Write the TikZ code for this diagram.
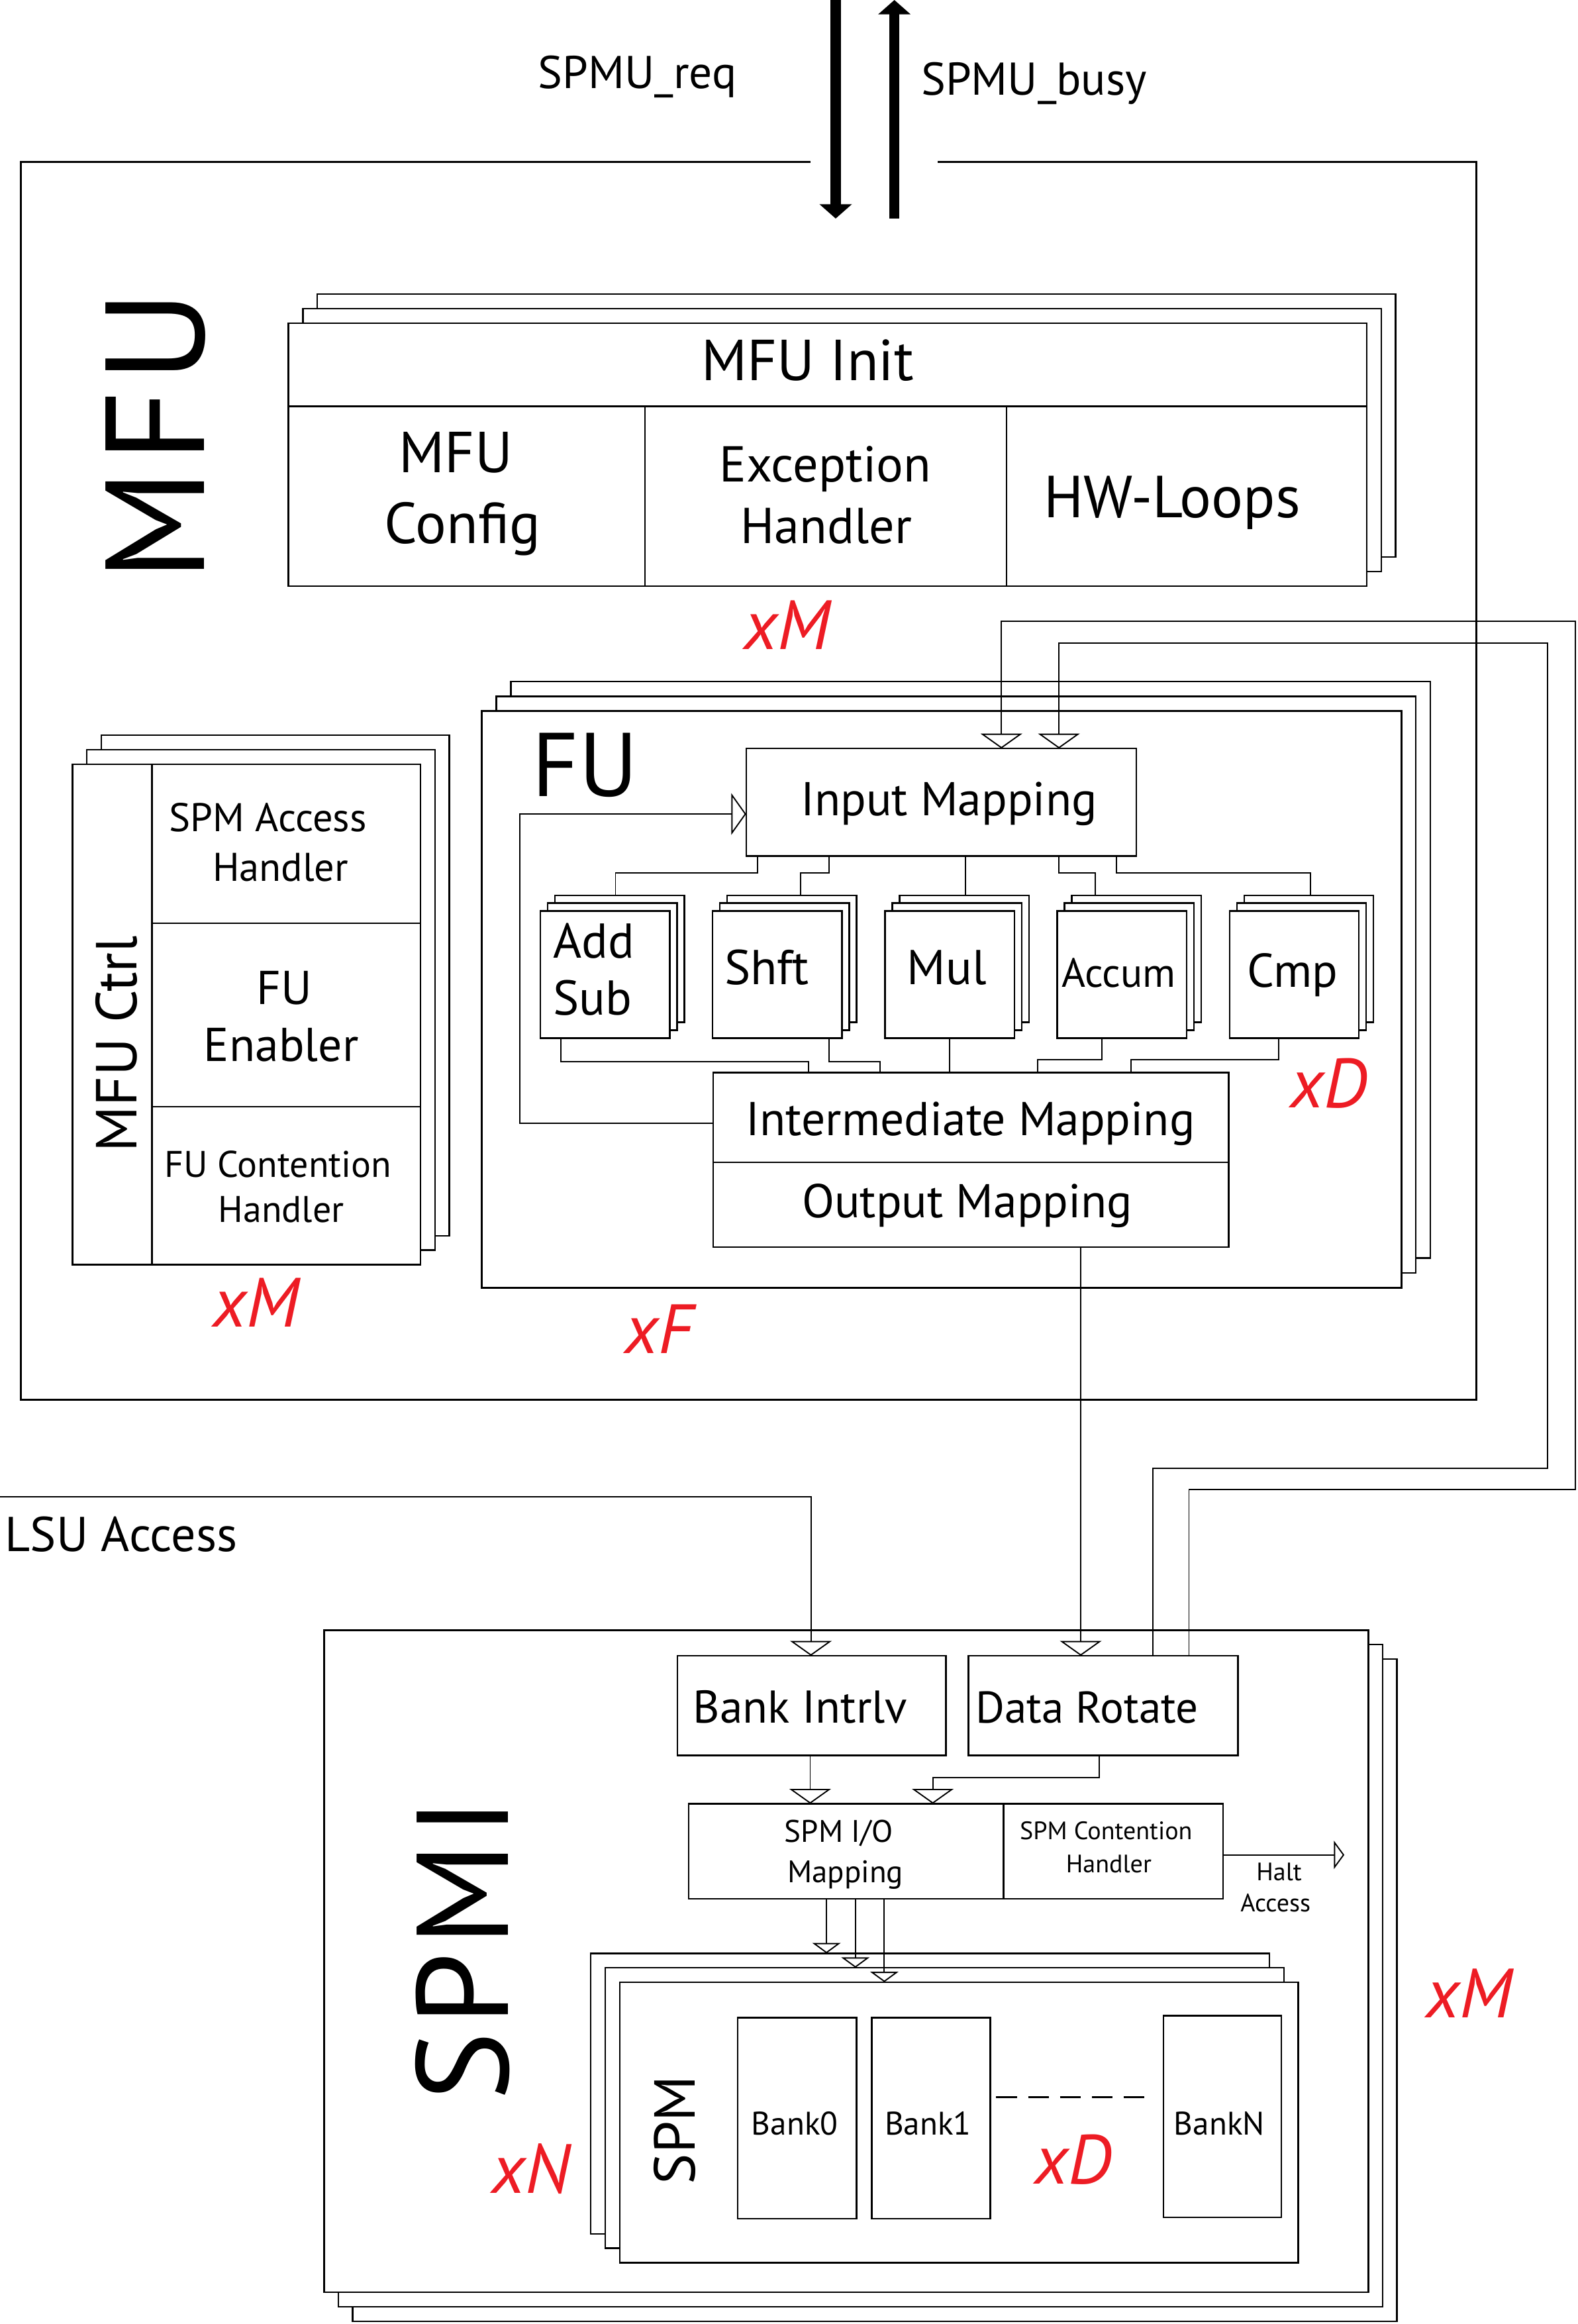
\documentclass[tikz,border=0pt]{standalone}
\usepackage{fontspec}
\setmainfont{PT Sans}
\usetikzlibrary{arrows.meta}
\definecolor{xred}{RGB}{237,28,36}
\newcommand{\fsz}[1]{\fontsize{#1}{#1}\selectfont}
% box node from corners: [opts]{name}{x1}{y1}{x2}{y2}
\newcommand{\bx}[6][]{%
  \node[box,#1,minimum width={((#5)-(#3))*1pt},minimum height={((#6)-(#4))*1pt}] (#2) at ({((#3)+(#5))/2},{((#4)+(#6))/2}) {};}
% stack of three copies: {name}{x1}{y1}{x2}{y2}{dx}{dy}
\newcommand{\stk}[7]{%
  \bx{#1B2}{#2+2*(#6)}{#3+2*(#7)}{#4+2*(#6)}{#5+2*(#7)}
  \bx{#1B1}{#2+(#6)}{#3+(#7)}{#4+(#6)}{#5+(#7)}
  \bx{#1}{#2}{#3}{#4}{#5}}
\tikzset{
  box/.style={draw, line width=1.1pt, fill=white, inner sep=0pt, outer sep=0pt},
  divline/.style={line width=1.1pt},
  conn/.style={line width=0.85pt},
  oarr/.tip={Triangle[open, width=28pt, length=10pt]},
  stip/.tip={Triangle[open, width=19pt, length=7pt]},
  fattip/.tip={Triangle[width=21.4pt, length=9.7pt]},
  txt/.style={inner sep=0pt, outer sep=0pt, anchor=base},
  redl/.style={txt, text=xred, font=\itshape\fsz{47}},
}
\begin{document}
\begin{tikzpicture}[x=1pt,y=-1pt]
\fill[white] (0,0) rectangle (1064,1567.4);
\useasboundingbox (0,0) rectangle (1064,1567.4);

% ---------- top signals ----------
\coordinate (reqsrc) at (563.7,0);
\coordinate (reqdst) at (563.7,147.4);
\coordinate (busysrc) at (603.3,147.4);
\coordinate (busydst) at (603.3,0);
\draw[line width=6.8pt, -fattip] (reqsrc) -- (reqdst);
\draw[line width=6.8pt, -fattip] (busysrc) -- (busydst);
\node[txt,font=\fsz{31}] (reqlbl) at (430,59.5) {SPMU\_req};
\node[txt,font=\fsz{31}] (busylbl) at (697.5,64) {SPMU\_busy};

% ---------- MFU container ----------
\draw[line width=1.3pt] (546.8,109.4) -- (14,109.4) -- (14,944.2) -- (995.7,944.2) -- (995.7,109.4) -- (632.4,109.4);
\node[txt,rotate=90,font=\fsz{95}\addfontfeature{LetterSpace=5}] (mfulbl) at (137.8,294) {MFU};

% MFU Init
\stk{mfuinit}{194.6}{218}{922}{395.3}{9.7}{-9.8}
\draw[divline] (194.6,274) -- (922,274);
\draw[divline] (435,274) -- (435,395.3);
\draw[divline] (679,274) -- (679,395.3);
\node[txt,font=\fsz{39}] (initlbl) at (544.8,256.4) {MFU Init};
\node[txt,font=\fsz{39}] (cfg1) at (307.5,318.7) {MFU};
\node[txt,font=\fsz{39}] (cfg2) at (312,366.7) {Config};
\node[txt,font=\fsz{34}] (exc1) at (556.7,325) {Exception};
\node[txt,font=\fsz{34}] (exc2) at (557.4,366.7) {Handler};
\node[txt,font=\fsz{40}] (hwl) at (790.7,349.2) {HW-Loops};
\node[redl] (xm1) at (530.8,437.9) {xM};

% MFU Ctrl
\stk{ctrl}{48.9}{515.5}{283.7}{853}{9.7}{-9.8}
\draw[divline] (102.5,515.5) -- (102.5,853);
\draw[divline] (102.5,622.7) -- (283.7,622.7);
\draw[divline] (102.5,746.5) -- (283.7,746.5);
\node[txt,rotate=90,font=\fsz{39}] (ctrllbl) at (92.3,704) {MFU Ctrl};
\node[txt,font=\fsz{27}] (sah1) at (180.8,561) {SPM Access};
\node[txt,font=\fsz{27}] (sah2) at (189.2,594.4) {Handler};
\node[txt,font=\fsz{32}] (fue1) at (191.9,677.2) {FU};
\node[txt,font=\fsz{32}] (fue2) at (189.7,715.8) {Enabler};
\node[txt,font=\fsz{25}] (fch1) at (187.6,794) {FU Contention};
\node[txt,font=\fsz{25}] (fch2) at (189.7,824.5) {Handler};
\node[redl] (xm2) at (172.9,894.9) {xM};

% FU
\stk{fu}{325}{479.6}{945.3}{868.5}{9.8}{-10}
\node[txt,font=\fsz{61}] (fulbl) at (394.7,537) {FU};
\bx{inmap}{503.3}{504.8}{766.5}{577.3}
\node[txt,font=\fsz{32}] (inmaplbl) at (640.1,550.1) {Input Mapping};

\stk{addsub}{364.5}{614.4}{451.9}{700.1}{4.9}{-5.3}
\stk{shft}{480.6}{614.4}{568}{700.1}{4.9}{-5.3}
\stk{mul}{597}{614.4}{684.4}{700.1}{4.9}{-5.3}
\stk{accum}{713.1}{614.4}{800.5}{700.1}{4.9}{-5.3}
\stk{cmp}{829.5}{614.4}{916.5}{700.1}{4.9}{-5.3}
\node[txt,anchor=base west,font=\fsz{33}] (addlbl) at (373.3,645.9) {Add};
\node[txt,anchor=base west,font=\fsz{33}] (sublbl) at (373.3,684.4) {Sub};
\node[txt,font=\fsz{33}] (shftlbl) at (517.1,664) {Shft};
\node[txt,font=\fsz{33}] (mullbl) at (638.7,664) {Mul};
\node[txt,font=\fsz{27.5}] (acclbl) at (754.6,665.7) {Accum};
\node[txt,font=\fsz{32}] (cmplbl) at (872,665.9) {Cmp};

\bx{imap}{481}{723.4}{828.9}{783.8}
\bx{omap}{481}{783.8}{828.9}{841.2}
\node[txt,font=\fsz{32}] (imaplbl) at (654.7,766) {Intermediate Mapping};
\node[txt,font=\fsz{32}] (omaplbl) at (652.5,821.4) {Output Mapping};
\node[redl] (xd1) at (896.2,747.2) {xD};
\node[redl] (xf) at (444.3,913) {xF};

% FU internal connectors
\draw[conn] (inmap.south -| 510.9,0) |- (415.2,588.8) -- (addsubB2.north -| 415.2,0);
\draw[conn] (inmap.south -| 559.2,0) |- (540,588.8) -- (shftB2.north -| 540,0);
\draw[conn] (inmap.south -| 651.3,0) -- (mulB2.north -| 651.3,0);
\draw[conn] (inmap.south -| 714.3,0) |- (738.6,588.8) -- (accumB2.north -| 738.6,0);
\draw[conn] (inmap.south -| 753,0) |- (883.8,588.8) -- (cmpB2.north -| 883.8,0);
\draw[conn] (addsub.south -| 378.5,0) |- (545.2,715.9) -- (imap.north -| 545.2,0);
\draw[conn] (shft.south -| 559.2,0) |- (593.5,716) -- (imap.north -| 593.5,0);
\draw[conn] (mul.south -| 640.5,0) -- (imap.north -| 640.5,0);
\draw[conn] (accum.south -| 743.4,0) |- (700,714.8) -- (imap.north -| 700,0);
\draw[conn] (cmp.south -| 862.7,0) |- (763,714.8) -- (imap.north -| 763,0);
\draw[conn,-oarr] (imap.west |- 0,757.4) -| (350.6,549) -- (inmap.west |- 0,549);

% ---------- SPMI ----------
\stk{spmi}{218.6}{1099.4}{923}{1546}{9.6}{9.8}
\node[txt,rotate=90,font=\fsz{88}\addfontfeature{LetterSpace=5}] (spmilbl) at (342.8,1315) {SPMI};
\node[redl] (xm3) at (991,1360.6) {xM};

\bx{bi}{457}{1116.7}{638}{1183.9}
\bx{dr}{653.3}{1116.7}{835}{1183.9}
\node[txt,font=\fsz{31}] (bilbl) at (539.8,1162.2) {Bank Intrlv};
\node[txt,font=\fsz{30}] (drlbl) at (733.3,1162.2) {Data Rotate};

\bx{sio}{464.5}{1216.5}{677}{1280.6}
\bx{sch}{677}{1216.5}{825}{1280.6}
\node[txt,font=\fsz{21}] (sio1) at (565.8,1242.4) {SPM I/O};
\node[txt,font=\fsz{21}] (sio2) at (570.2,1269.8) {Mapping};
\node[txt,font=\fsz{17}] (sch1) at (746.1,1240.6) {SPM Contention};
\node[txt,font=\fsz{17}] (sch2) at (747.9,1262.8) {Handler};
\node[txt,font=\fsz{17}] (halt1) at (862.8,1268.3) {Halt};
\node[txt,font=\fsz{17}] (halt2) at (860.4,1289.4) {Access};

\stk{spm}{418.1}{1336.8}{875.8}{1526}{-9.8}{-9.7}
\node[txt,rotate=90,font=\fsz{39}] (spmlbl) at (468.6,1436.6) {SPM};
\bx{b0}{497.5}{1360.8}{577.7}{1496.4}
\bx{b1}{588}{1360.8}{668}{1496.4}
\bx{bn}{784.8}{1359.5}{864.2}{1495.5}
\node[txt,font=\fsz{22}] (b0lbl) at (536.1,1439.8) {Bank0};
\node[txt,font=\fsz{22}] (b1lbl) at (626,1439.8) {Bank1};
\node[txt,font=\fsz{22}] (bnlbl) at (822.5,1439.8) {BankN};
\draw[line width=1pt, dash pattern=on 14pt off 7.5pt] (672,1414.4) -- (772,1414.4);
\node[redl] (xn) at (358,1479) {xN};
\node[redl] (xd2) at (724,1473) {xD};

% LSU
\coordinate (lsusrc) at (0,1009.5);
\node[txt,anchor=base west,font=\fsz{33}] (lsulbl) at (3.4,1046.4) {LSU Access};

% ---------- long connectors ----------
\draw[conn,-oarr] (omap.south -| 729,0) -- (dr.north -| 729,0);
\draw[conn,-oarr] (dr.north -| 802,0) |- (1062.8,1004.5) |- (675.5,419) -- (inmap.north -| 675.5,0);
\draw[conn,-oarr] (dr.north -| 777.5,0) |- (1044,990.1) |- (714.3,433.7) -- (inmap.north -| 714.3,0);
\draw[conn,-oarr] (lsusrc) -| (bi.north -| 547,0);
\draw[conn,-oarr] (bi.south -| 546.5,0) -- (sio.north -| 546.5,0);
\draw[conn,-oarr] (dr.south -| 741.3,0) |- (629.2,1199) -- (sio.north -| 629.2,0);
\coordinate (haltdst) at (906.8,1251);
\draw[conn,-stip] (sch.east |- 0,1251) -- (haltdst);
\draw[conn,-stip] (sio.south -| 557.5,0) -- (spmB2.north -| 557.5,0);
\draw[conn,-stip] (sio.south -| 577,0) -- (spmB1.north -| 577,0);
\draw[conn,-stip] (sio.south -| 596.5,0) -- (spm.north -| 596.5,0);
\end{tikzpicture}
\end{document}
